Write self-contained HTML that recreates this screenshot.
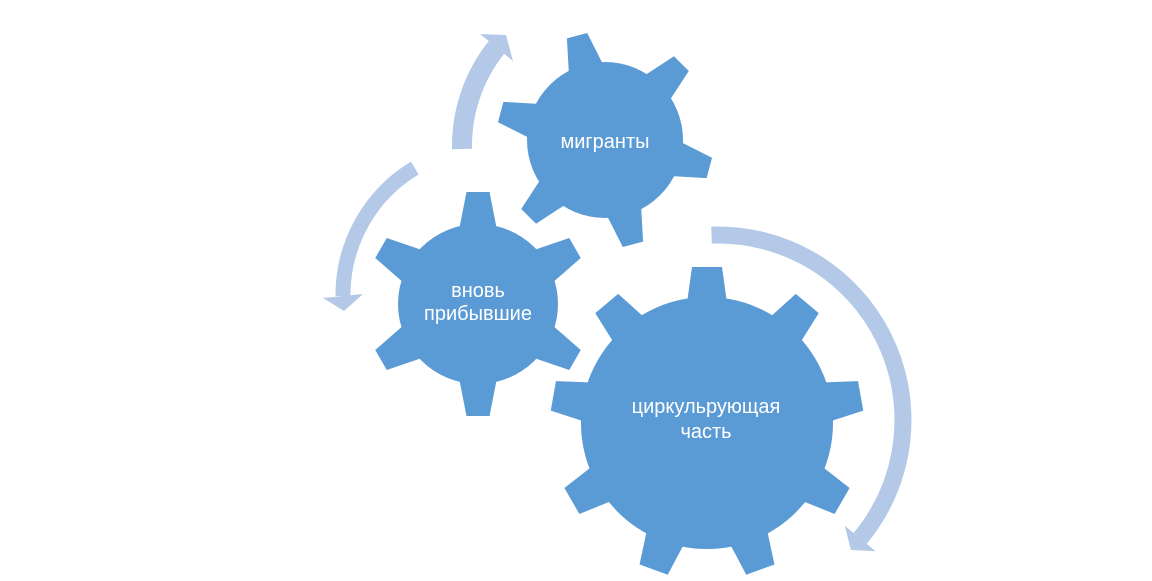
<!DOCTYPE html>
<html>
<head>
<meta charset="utf-8">
<style>
  html, body { margin: 0; padding: 0; background: #ffffff; }
  body { width: 1152px; height: 581px; overflow: hidden; }
  svg { display: block; }
  text { font-family: "Liberation Sans", "DejaVu Sans", sans-serif; font-size: 20px; fill: #ffffff; }
</style>
</head>
<body>
<svg width="1152" height="581" viewBox="0 0 1152 581" xmlns="http://www.w3.org/2000/svg">
  <!-- Arrows -->
  <g fill="none" stroke="#B4C9E8" stroke-linecap="butt">
    <path d="M 462 149 A 158 158 0 0 1 496.5 47.4" stroke-width="20"/>
    <path d="M 414.8 168.1 A 148 148 0 0 0 343 296" stroke-width="15"/>
    <path d="M 711.5 235.1 A 185 185 0 0 1 860.1 538.4" stroke-width="17"/>
  </g>
  <g fill="#B4C9E8">
    <polygon points="480,34 513,61 506,35"/>
    <polygon points="323,298 363,294 344,311"/>
    <polygon points="875.5,551.2 844.7,525.6 851,550"/>
  </g>

  <!-- Small gear: мигранты -->
  <g fill="#5B9BD5" transform="translate(605,140)">
    <circle r="78"/>
    <g id="t6s">
      <polygon points="-10.5,-108 10.5,-108 18,-72 -18,-72" transform="rotate(-15)"/>
      <polygon points="-10.5,-108 10.5,-108 18,-72 -18,-72" transform="rotate(45)"/>
      <polygon points="-10.5,-108 10.5,-108 18,-72 -18,-72" transform="rotate(105)"/>
      <polygon points="-10.5,-108 10.5,-108 18,-72 -18,-72" transform="rotate(165)"/>
      <polygon points="-10.5,-108 10.5,-108 18,-72 -18,-72" transform="rotate(225)"/>
      <polygon points="-10.5,-108 10.5,-108 18,-72 -18,-72" transform="rotate(285)"/>
    </g>
  </g>

  <!-- Medium gear: вновь прибывшие -->
  <g fill="#5B9BD5" transform="translate(478,304)">
    <circle r="80"/>
    <polygon points="-11.5,-112 11.5,-112 19,-74 -19,-74" transform="rotate(0)"/>
    <polygon points="-11.5,-112 11.5,-112 19,-74 -19,-74" transform="rotate(60)"/>
    <polygon points="-11.5,-112 11.5,-112 19,-74 -19,-74" transform="rotate(120)"/>
    <polygon points="-11.5,-112 11.5,-112 19,-74 -19,-74" transform="rotate(180)"/>
    <polygon points="-11.5,-112 11.5,-112 19,-74 -19,-74" transform="rotate(240)"/>
    <polygon points="-11.5,-112 11.5,-112 19,-74 -19,-74" transform="rotate(300)"/>
  </g>

  <!-- Big gear: циркульрующая часть -->
  <g fill="#5B9BD5" transform="translate(707,423)">
    <circle r="126"/>
    <polygon points="-15,-156 15,-156 20,-120 -20,-120" transform="rotate(0)"/>
    <polygon points="-15,-156 15,-156 20,-120 -20,-120" transform="rotate(40)"/>
    <polygon points="-15,-156 15,-156 20,-120 -20,-120" transform="rotate(80)"/>
    <polygon points="-15,-156 15,-156 20,-120 -20,-120" transform="rotate(120)"/>
    <polygon points="-15,-156 15,-156 20,-120 -20,-120" transform="rotate(160)"/>
    <polygon points="-15,-156 15,-156 20,-120 -20,-120" transform="rotate(200)"/>
    <polygon points="-15,-156 15,-156 20,-120 -20,-120" transform="rotate(240)"/>
    <polygon points="-15,-156 15,-156 20,-120 -20,-120" transform="rotate(280)"/>
    <polygon points="-15,-156 15,-156 20,-120 -20,-120" transform="rotate(320)"/>
  </g>

  <!-- Labels -->
  <text x="605" y="148" text-anchor="middle">мигранты</text>
  <text x="478" y="297" text-anchor="middle">вновь</text>
  <text x="478" y="320" text-anchor="middle">прибывшие</text>
  <text x="706" y="413" text-anchor="middle">циркульрующая</text>
  <text x="706" y="438" text-anchor="middle">часть</text>
</svg>
</body>
</html>
